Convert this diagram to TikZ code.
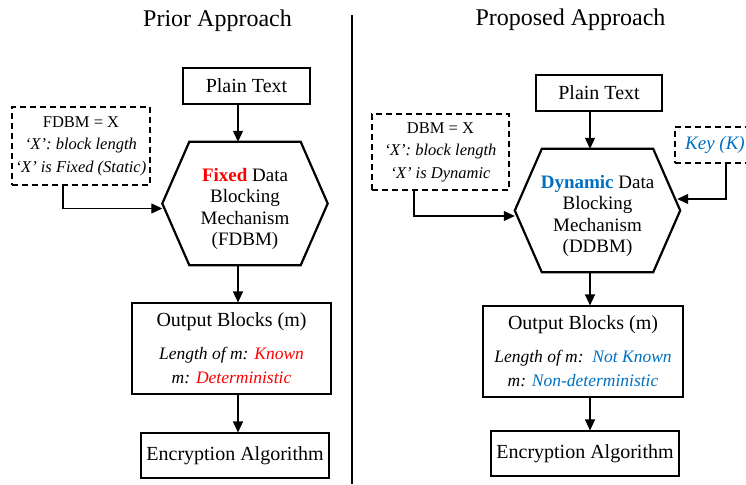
\documentclass[tikz,border=0pt]{standalone}
\usepackage{fontspec}
\setmainfont{Liberation Serif}
\usetikzlibrary{arrows.meta, positioning}

\definecolor{fixedred}{RGB}{255,0,0}
\definecolor{dynblue}{RGB}{0,112,192}
\newcommand{\notefont}{\fontsize{17.5}{23}\selectfont\itshape}

\begin{document}
\begin{tikzpicture}[
    x=1pt, y=-1pt,
    title/.style={font=\fontsize{24}{28}\selectfont},
    box/.style={draw, line width=1.1pt, align=center, inner sep=0pt,
                font=\fontsize{20}{24}\selectfont},
    dashbox/.style={draw, dash pattern=on 6pt off 4pt, line width=1.1pt,
                    align=center, inner sep=0pt, font=\fontsize{16.5}{22.5}\selectfont},
    hexbox/.style={minimum width=165pt, minimum height=123pt, inner sep=0pt},
    hextext/.style={align=center, font=\fontsize{19}{21.5}\selectfont},
    arrow/.style={-{Triangle[length=11pt, width=10pt]}, line width=1.2pt},
]
\path[use as bounding box] (0,0) rectangle (746,484);
\clip (0,0) rectangle (746,484);

% Titles and divider
\node[title] (prior) at (217.5,21) {Prior Approach};
\node[title] (proposed) at (570.5,20) {Proposed Approach};
\draw[line width=1.1pt] (352,15) -- (352,484);

% Prior approach
\coordinate (spineL) at (238,0);
\node[box, minimum width=127pt, minimum height=36pt] (plainL) at (246.5,86) {Plain Text};
\node[hexbox] (hexL) at (245,203.5) {};
\node[hextext] (fdbm) at ([yshift=-5.5pt]hexL.center)
    {{\bfseries\color{fixedred}Fixed} Data\\Blocking\\Mechanism\\(FDBM)};
\node[dashbox, minimum width=138pt, minimum height=78pt] (dashL) at (81,146)
    {FDBM = X\\\textit{`X': block length}\\\textit{`X' is Fixed (Static)}};
\node[box, minimum width=199pt, minimum height=91pt] (outL) at (231.5,348.5)
    {Output Blocks (m)\\[9pt]{\notefont Length of m: \textcolor{fixedred}{Known}}\\
     {\notefont m: \textcolor{fixedred}{Deterministic}}};
\node[box, minimum width=188pt, minimum height=45pt] (encL) at (235,455.5) {Encryption Algorithm};

% Proposed approach
\coordinate (spineR) at (590,0);
\node[box, minimum width=126pt, minimum height=36pt] (plainR) at (599,93) {Plain Text};
\node[hexbox] (hexR) at (597.5,210.5) {};
\node[hextext] (ddbm) at ([yshift=-5.5pt]hexR.center)
    {{\bfseries\color{dynblue}Dynamic} Data\\Blocking\\Mechanism\\(DDBM)};
\node[dashbox, minimum width=137pt, minimum height=76pt] (dashR) at (440.5,152)
    {DBM = X\\\textit{`X': block length}\\\textit{`X' is Dynamic}};
\node[dashbox, minimum width=80pt, minimum height=36pt, text=dynblue,
      font=\fontsize{19}{22}\selectfont\itshape] (keyR) at (715,145) {Key (K)};
\node[box, minimum width=200pt, minimum height=91pt] (outR) at (583,351.5)
    {Output Blocks (m)\\[9pt]{\notefont Length of m:\ \ \textcolor{dynblue}{Not Known}}\\
     {\notefont m: \textcolor{dynblue}{Non-deterministic}}};
\node[box, minimum width=188pt, minimum height=45pt] (encR) at (585,453.5) {Encryption Algorithm};

% Hexagon outlines
\foreach \h in {hexL, hexR}
    \draw[line width=2.2pt, line join=miter]
        ([xshift=27pt]\h.north west) -- ([xshift=-27pt]\h.north east) -- (\h.east)
        -- ([xshift=-27pt]\h.south east) -- ([xshift=27pt]\h.south west) -- (\h.west) -- cycle;

% Connectors
\draw[arrow] (plainL.south -| spineL) -- (hexL.north -| spineL);
\draw[arrow] (hexL.south -| spineL) -- (outL.north -| spineL);
\draw[arrow] (outL.south -| spineL) -- (encL.north -| spineL);
\draw[arrow] ([xshift=-18pt]dashL.south) |- ([yshift=-5pt]hexL.west);

\draw[arrow] (plainR.south -| spineR) -- (hexR.north -| spineR);
\draw[arrow] (hexR.south -| spineR) -- (outR.north -| spineR);
\draw[arrow] (outR.south -| spineR) -- (encR.north -| spineR);
\draw[arrow] ([xshift=-26.5pt]dashR.south) |- ([yshift=-5.5pt]hexR.west);
\draw[arrow] ([xshift=11pt]keyR.south) |- ([xshift=-3pt, yshift=11.5pt]hexR.east);
\end{tikzpicture}
\end{document}
